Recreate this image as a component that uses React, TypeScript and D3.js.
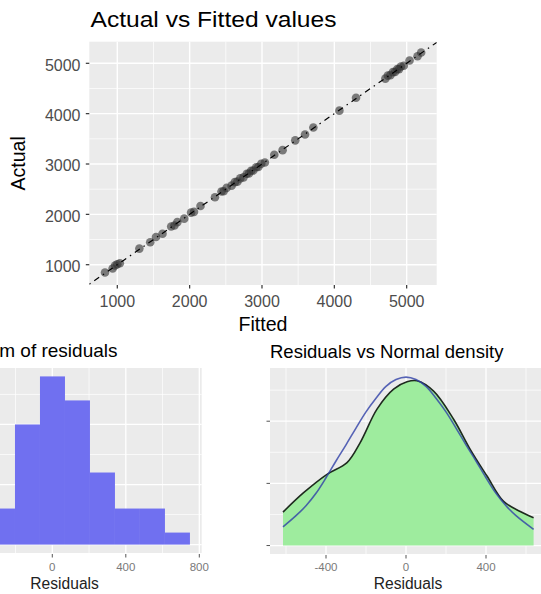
import React from 'react';
import * as d3 from 'd3';

// top panel: actual vs fitted
const fitted = [830, 935, 970, 1000, 1035, 1305, 1455, 1535, 1625, 1745, 1790, 1830, 1925, 2020, 2060, 2150,
  2350, 2440, 2470, 2510, 2580, 2625, 2660, 2700, 2745, 2790, 2820, 2850, 2880, 2920, 2950, 2990, 3040,
  3170, 3285, 3460, 3595, 3710, 4070, 4300, 4705, 4740, 4775, 4810, 4840, 4870, 4895, 4920, 4960, 5040, 5150, 5200];
const actual = [845, 925, 985, 1010, 1030, 1320, 1445, 1550, 1615, 1760, 1780, 1845, 1915, 2035, 2050, 2165,
  2340, 2455, 2460, 2525, 2570, 2640, 2650, 2715, 2735, 2805, 2810, 2865, 2870, 2935, 2940, 3005, 3030,
  3185, 3275, 3470, 3585, 3725, 4060, 4315, 4695, 4755, 4765, 4825, 4830, 4885, 4885, 4935, 4950, 5055, 5140, 5215];
const topTicks = [1000, 2000, 3000, 4000, 5000];
const topMinor = [1500, 2500, 3500, 4500];

// histogram of residuals
const binEdges = [-611, -475, -339, -203, -67, 69, 205, 341, 477, 613, 749];
const binCounts = [1, 2, 3, 10, 14, 12, 6, 3, 3, 1];
const histTicks = [0, 400, 800];
const histMinorX = [-600, -200, 200, 600];
const histGridY = [0, 5, 10];
const histMinorY = [2.5, 7.5, 12.5];

// residuals vs normal density
const densX = [-615, -512, -395, -295, -229, -145, -62, 5, 55, 138, 238, 321, 405, 488, 571, 638];
const densY = [0.000269, 0.000425, 0.000573, 0.000667, 0.000828, 0.001097, 0.001258, 0.001317, 0.001325,
  0.001242, 0.001016, 0.000774, 0.000559, 0.000355, 0.000274, 0.000223];
const normX = [-615, -550, -500, -450, -400, -350, -300, -250, -200, -150, -100, -50, 0, 50, 100, 150, 200,
  250, 300, 350, 400, 450, 500, 550, 638];
const normY = [0.000150, 0.000240, 0.000320, 0.000420, 0.000545, 0.000680, 0.000810, 0.000945, 0.001075,
  0.001185, 0.001280, 0.001335, 0.001355, 0.001335, 0.001280, 0.001185, 0.001075, 0.000945, 0.000810,
  0.000680, 0.000545, 0.000420, 0.000320, 0.000240, 0.000130];
const densTicksX = [-400, 0, 400];
const densMinorX = [-600, -200, 200, 600];
const densTicksY = [0, 0.0005, 0.001];
const densMinorY = [0.00025, 0.00075, 0.00125];

const FONT = 'Liberation Sans, Arial, Helvetica, sans-serif';
const BG = '#ebebeb';

const TopPanel = () => {
  const x = d3.scaleLinear().domain([613, 5415]).range([89.3, 436.7]);
  const y = d3.scaleLinear().domain([597, 5429]).range([285, 41.7]);
  const [x0, x1] = x.range();
  const [y0, y1] = y.range();
  const lo = Math.max(x.domain()[0], y.domain()[0]);
  const hi = Math.min(x.domain()[1], y.domain()[1]);
  const line = d3.line<number>().x(d => x(d)).y(d => y(d));
  return (
    <g>
      <defs>
        <clipPath id="clipTop">
          <rect x={x0} y={y1} width={x1 - x0} height={y0 - y1} />
        </clipPath>
      </defs>
      <rect x={x0} y={y1} width={x1 - x0} height={y0 - y1} fill={BG} />
      {topMinor.map(v => (
        <g key={'m' + v}>
          <line x1={x(v)} x2={x(v)} y1={y1} y2={y0} stroke="#fff" strokeWidth={0.7} />
          <line x1={x0} x2={x1} y1={y(v)} y2={y(v)} stroke="#fff" strokeWidth={0.7} />
        </g>
      ))}
      {topTicks.map(v => (
        <g key={'t' + v}>
          <line x1={x(v)} x2={x(v)} y1={y1} y2={y0} stroke="#fff" strokeWidth={1.4} />
          <line x1={x0} x2={x1} y1={y(v)} y2={y(v)} stroke="#fff" strokeWidth={1.4} />
          <line x1={x(v)} x2={x(v)} y1={y0} y2={y0 + 3.5} stroke="#333" strokeWidth={1.2} />
          <line x1={x0 - 3.5} x2={x0} y1={y(v)} y2={y(v)} stroke="#333" strokeWidth={1.2} />
          <text x={x(v)} y={306.7} textAnchor="middle" fontSize={16} fill="#4d4d4d">{v}</text>
          <text x={80.5} y={y(v) + 7.3} textAnchor="end" fontSize={16} fill="#4d4d4d">{v}</text>
        </g>
      ))}
      <g clipPath="url(#clipTop)">
        {fitted.map((f, i) => (
          <circle key={i} cx={x(f)} cy={y(actual[i])} r={4.3} fill="#333" fillOpacity={0.62} />
        ))}
        <path d={line([lo, hi]) || ''} stroke="#000" strokeWidth={1.2} fill="none"
          strokeDasharray="1.5,4.5,6,4.5" />
      </g>
      <text x={90.5} y={26.7} fontSize={22} textLength={246} lengthAdjust="spacingAndGlyphs" fill="#000">
        Actual vs Fitted values
      </text>
      <text x={(x0 + x1) / 2} y={330.7} textAnchor="middle" fontSize={19.6} fill="#000">Fitted</text>
      <text transform={`translate(25,${(y0 + y1) / 2}) rotate(-90)`} textAnchor="middle" fontSize={19.6} fill="#000">
        Actual
      </text>
    </g>
  );
};

const HistPanel = () => {
  const x = d3.scaleLinear().domain([-679, 813]).range([-72.5, 201.7]);
  const y = d3.scaleLinear().domain([-0.7, 14.7]).range([553, 368]);
  const [x0, x1] = x.range();
  const [y0, y1] = y.range();
  return (
    <g>
      <rect x={x0} y={y1} width={x1 - x0} height={y0 - y1} fill={BG} />
      {histMinorX.map(v => (
        <line key={'mx' + v} x1={x(v)} x2={x(v)} y1={y1} y2={y0} stroke="#fff" strokeWidth={0.7} />
      ))}
      {histMinorY.map(v => (
        <line key={'my' + v} x1={x0} x2={x1} y1={y(v)} y2={y(v)} stroke="#fff" strokeWidth={0.7} />
      ))}
      {histGridY.map(v => (
        <line key={'gy' + v} x1={x0} x2={x1} y1={y(v)} y2={y(v)} stroke="#fff" strokeWidth={1.3} />
      ))}
      {histTicks.map(v => (
        <g key={'gx' + v}>
          <line x1={x(v)} x2={x(v)} y1={y1} y2={y0} stroke="#fff" strokeWidth={1.3} />
          <line x1={x(v)} x2={x(v)} y1={y0 + 1} y2={y0 + 4.5} stroke="#555" strokeWidth={1} />
          <text x={x(v)} y={570.7} textAnchor="middle" fontSize={11.5} fill="#7a7a7a">{v}</text>
        </g>
      ))}
      {binCounts.map((c, i) => (
        <rect key={i} x={x(binEdges[i])} y={y(c)} width={x(binEdges[i + 1]) - x(binEdges[i])}
          height={y(0) - y(c)} fill="#7070f0" />
      ))}
      <text x={117.5} y={357} textAnchor="end" fontSize={19} fill="#000">Histogram of residuals</text>
      <text x={(x0 + x1) / 2} y={589} textAnchor="middle" fontSize={15.6} fill="#222">Residuals</text>
    </g>
  );
};

const DensPanel = () => {
  const x = d3.scaleLinear().domain([-680, 700]).range([270, 546]);
  const y = d3.scaleLinear().domain([-0.000068, 0.001428]).range([554, 368]);
  const [x0, x1] = x.range();
  const [y0, y1] = y.range();
  const dens = densX.map((v, i) => [v, densY[i]] as [number, number]);
  const norm = normX.map((v, i) => [v, normY[i]] as [number, number]);
  const area = d3.area<[number, number]>().x(d => x(d[0])).y0(y(0)).y1(d => y(d[1])).curve(d3.curveCatmullRom);
  const ln = d3.line<[number, number]>().x(d => x(d[0])).y(d => y(d[1])).curve(d3.curveCatmullRom);
  return (
    <g>
      <rect x={x0} y={y1} width={x1 - x0} height={y0 - y1} fill={BG} />
      {densMinorX.map(v => (
        <line key={'mx' + v} x1={x(v)} x2={x(v)} y1={y1} y2={y0} stroke="#fff" strokeWidth={0.7} />
      ))}
      {densMinorY.map(v => (
        <line key={'my' + v} x1={x0} x2={x1} y1={y(v)} y2={y(v)} stroke="#fff" strokeWidth={0.7} />
      ))}
      {densTicksY.map(v => (
        <g key={'gy' + v}>
          <line x1={x0} x2={x1} y1={y(v)} y2={y(v)} stroke="#fff" strokeWidth={1.3} />
          <line x1={x0 - 3.5} x2={x0} y1={y(v)} y2={y(v)} stroke="#555" strokeWidth={1} />
        </g>
      ))}
      {densTicksX.map(v => (
        <g key={'gx' + v}>
          <line x1={x(v)} x2={x(v)} y1={y1} y2={y0} stroke="#fff" strokeWidth={1.3} />
          <line x1={x(v)} x2={x(v)} y1={y0 + 1} y2={y0 + 4.5} stroke="#555" strokeWidth={1} />
          <text x={x(v)} y={570.7} textAnchor="middle" fontSize={11.5} fill="#7a7a7a">{v}</text>
        </g>
      ))}
      <path d={area(dens) || ''} fill="#9eec9e" />
      <path d={ln(dens) || ''} fill="none" stroke="#1e2a1e" strokeWidth={1.6} />
      <path d={ln(norm) || ''} fill="none" stroke="#2f40a8" strokeWidth={1.6} strokeOpacity={0.8} />
      <text x={270} y={358} fontSize={18.5} fill="#000">Residuals vs Normal density</text>
      <text x={408} y={589} textAnchor="middle" fontSize={15.6} fill="#222">Residuals</text>
    </g>
  );
};

export default function App() {
  return (
    <svg width={541} height={594} fontFamily={FONT}
      style={{ position: 'absolute', left: 0, top: 0, background: '#fff' }}>
      <TopPanel />
      <HistPanel />
      <DensPanel />
    </svg>
  );
}
